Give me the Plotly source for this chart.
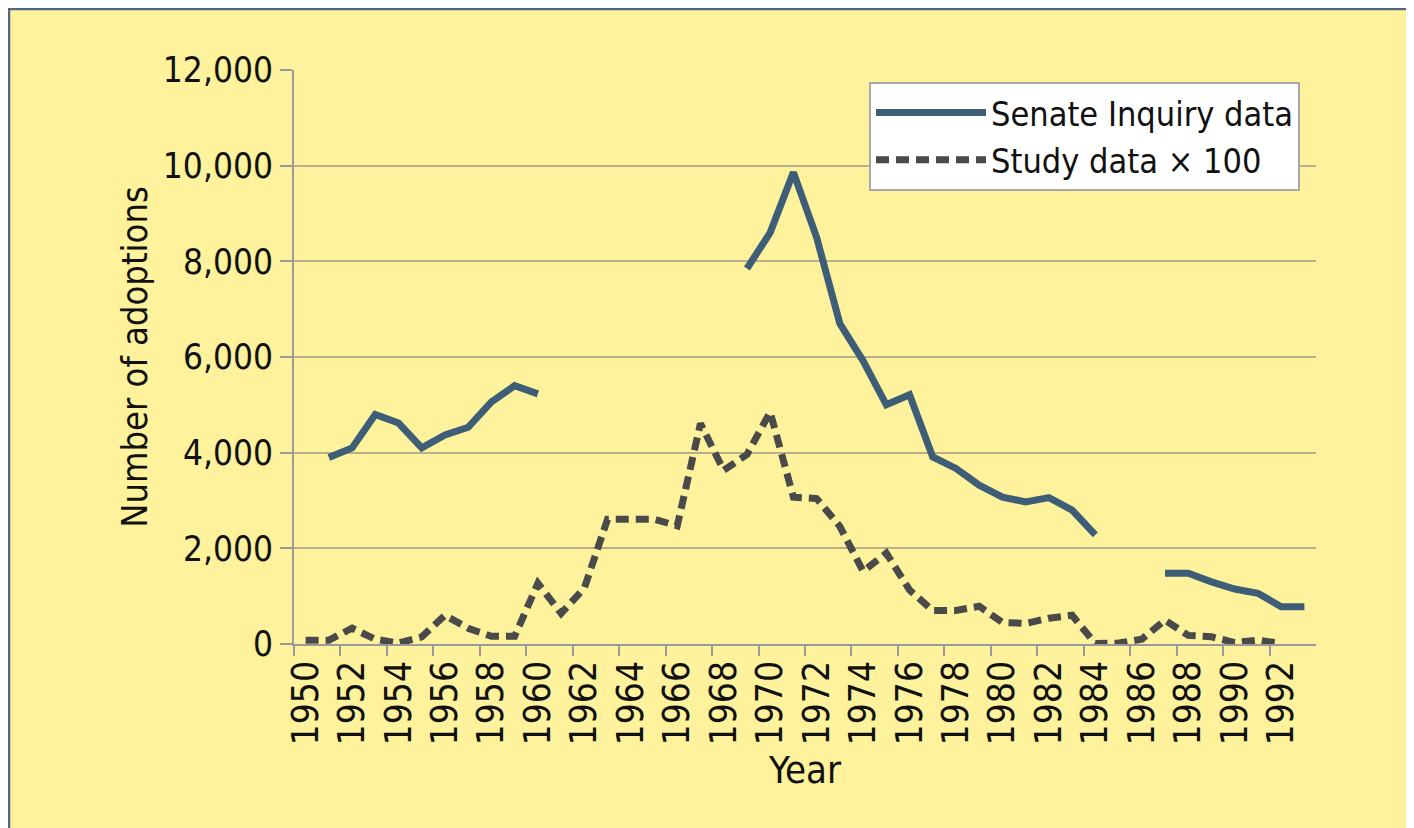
import plotly.graph_objects as go

# ---- data ----
senate_years_a = [1951, 1952, 1953, 1954, 1955, 1956, 1957, 1958, 1959, 1960]
senate_vals_a = [3900, 4100, 4800, 4620, 4100, 4370, 4530, 5060, 5400, 5230]
senate_years_b = [1969, 1970, 1971, 1972, 1973, 1974, 1975, 1976, 1977, 1978,
                  1979, 1980, 1981, 1982, 1983, 1984]
senate_vals_b = [7850, 8600, 9860, 8500, 6700, 5920, 5000, 5210, 3910, 3670,
                 3320, 3070, 2970, 3060, 2800, 2280]
senate_years_c = [1987, 1988, 1989, 1990, 1991, 1992, 1993]
senate_vals_c = [1480, 1480, 1300, 1150, 1060, 780, 780]

study_years = list(range(1950, 1993))
study_vals = [80, 80, 330, 100, 20, 150, 600, 330, 160, 160,
              1270, 640, 1170, 2610, 2610, 2610, 2470, 4610, 3630, 3960,
              4850, 3070, 3040, 2460, 1520, 1900, 1130, 700, 700, 790,
              450, 430, 540, 600, 10, 20, 100, 500, 180, 150,
              30, 80, 10]

tick_years = list(range(1950, 1993, 2))
tick_labels = [str(y) for y in tick_years]
boundary_ticks = [y + 0.5 for y in range(1949, 1993, 2)]
y_ticks = [0, 2000, 4000, 6000, 8000, 10000, 12000]

SENATE_NAME = "Senate Inquiry data"
STUDY_NAME = "Study data \u00d7 100"

BG = "#FFF29C"
BLUE = "#3E5E78"
DARK = "#4A4A4A"
FONT = "DejaVu Sans Condensed, Liberation Sans Narrow, sans-serif"
TXT = "#111111"

fig = go.Figure()

sen_x = senate_years_a + [None] + senate_years_b + [None] + senate_years_c
sen_y = senate_vals_a + [None] + senate_vals_b + [None] + senate_vals_c
fig.add_trace(go.Scatter(
    x=sen_x, y=sen_y, mode="lines", name=SENATE_NAME,
    line=dict(color=BLUE, width=7), connectgaps=False,
))
fig.add_trace(go.Scatter(
    x=study_years, y=study_vals, mode="lines", name=STUDY_NAME,
    line=dict(color=DARK, width=7, dash="13px,7px"),
))

# page body has an 8px margin; figure coords = page coords - 8
OFF = 8
W, H = 1414, 828
L, T = 294 - OFF, 70 - OFF
pw, ph = 1022, 574
R = W - L - pw
B = H - T - ph

def px_to_paper_x(px):
    return (px - OFF - L) / pw

def py_to_paper_y(py):
    return (T + ph - (py - OFF)) / ph

fig.update_layout(
    width=W, height=H,
    margin=dict(l=L, r=R, t=T, b=B, autoexpand=False),
    paper_bgcolor=BG, plot_bgcolor=BG,
    font=dict(family=FONT, size=36, color=TXT),
    showlegend=True,
    legend=dict(
        x=px_to_paper_x(1300), y=py_to_paper_y(82), xanchor="right", yanchor="top",
        bgcolor="white", bordercolor="#A8A8A8", borderwidth=2,
        font=dict(family=FONT, size=34, color=TXT),
        itemwidth=110, tracegroupgap=0,
    ),
    xaxis=dict(
        range=[1949.5, 1993.5], tickmode="array", tickvals=tick_years,
        ticktext=tick_labels, tickangle=-90, ticks="", showgrid=False,
        showline=True, linecolor="#9A9A9A", linewidth=2, zeroline=False,
        tickfont=dict(family=FONT, size=37, color=TXT),
        minor=dict(tickmode="array", tickvals=boundary_ticks, ticks="outside",
                   ticklen=10, tickwidth=2, tickcolor="#9A9A9A", showgrid=False),
        title=dict(text="Year", standoff=12,
                   font=dict(family=FONT, size=38, color=TXT)),
    ),
    yaxis=dict(
        range=[0, 12000], tickmode="array", tickvals=y_ticks, tickformat=",d",
        ticks="outside", ticklen=12, tickwidth=2, tickcolor="#9A9A9A",
        showgrid=True, gridcolor="#B8B08A", gridwidth=2,
        showline=True, linecolor="#9A9A9A", linewidth=2, zeroline=False,
        tickfont=dict(family=FONT, size=35, color=TXT),
        title=dict(text="Number of adoptions", standoff=4,
                   font=dict(family=FONT, size=36, color=TXT)),
    ),
    shapes=[
        dict(type="line", xref="paper", yref="paper",
             x0=px_to_paper_x(9), x1=px_to_paper_x(9),
             y0=py_to_paper_y(8), y1=py_to_paper_y(H + 40),
             line=dict(color="#4E6A80", width=2.5)),
        dict(type="line", xref="paper", yref="paper",
             x0=px_to_paper_x(8), x1=px_to_paper_x(W + 40),
             y0=py_to_paper_y(9), y1=py_to_paper_y(9),
             line=dict(color="#4E6A80", width=2.5)),
    ],
)

fig.write_html("out.html")
